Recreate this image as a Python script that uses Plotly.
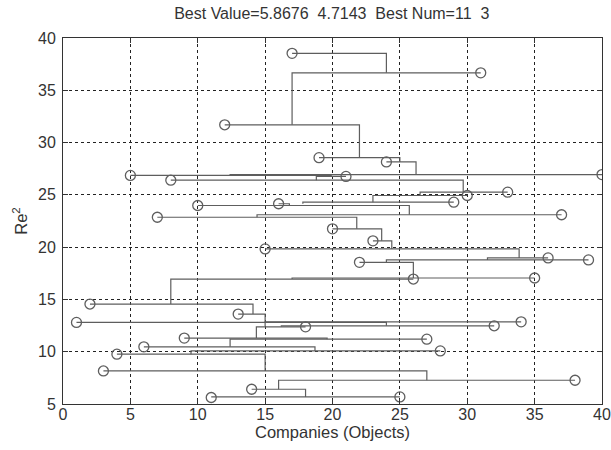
import plotly.graph_objects as go

# Objects (companies) ordered by Re^2, descending
obj_x = [17, 31, 12, 19, 24, 40, 5, 21, 8, 33, 30, 29, 16, 10, 37, 7, 20, 23, 15, 36,
         39, 22, 35, 26, 2, 13, 34, 1, 32, 18, 9, 27, 6, 28, 4, 3, 38, 14, 25, 11]
obj_y = [38.53, 36.67, 31.70, 28.56, 28.15, 26.94, 26.86, 26.76, 26.40, 25.26,
         24.94, 24.30, 24.15, 23.98, 23.10, 22.86, 21.75, 20.60, 19.83, 18.97,
         18.78, 18.55, 17.05, 16.95, 14.56, 13.60, 12.86, 12.80, 12.48, 12.38,
         11.30, 11.20, 10.47, 10.08, 9.76, 8.16, 7.27, 6.41, 5.68, 5.62]
# each object's link: horizontal run to link_x, then vertical to link_y
link_x = [24, 17, 22, 25, 26.2, 12.4, 19.9, 18.8, 29.7, 26.5,
          23, 17.8, 16.8, 25.7, 14.4, 21.8, 23.65, 24.4, 33.85, 31.5,
          24, 26, 17, 8, 14.1, 15, 15, 24, 16.2, 14.35,
          19.6, 12.4, 18.7, 9.5, 15, 27, 16, 18, 11, 11]
link_y = [36.67, 31.70, 28.56, 28.15, 26.94, 26.86, 26.76, 26.40, 25.26, 24.94,
          24.30, 24.15, 23.98, 23.10, 22.86, 21.75, 20.60, 19.83, 18.97, 18.78,
          18.55, 17.05, 16.95, 14.56, 13.60, 12.40, 12.80, 12.48, 12.38, 11.30,
          11.20, 10.47, 10.08, 9.76, 8.16, 7.27, 6.41, 5.68, 5.68, 5.62]

title_text = "Best Value=5.8676\u00a0\u00a04.7143\u00a0\u00a0Best Num=11\u00a0\u00a03"
x_label = "Companies (Objects)"
y_label = "Re<sup>2</sup>"
x_ticks = [0, 5, 10, 15, 20, 25, 30, 35, 40]
y_ticks = [5, 10, 15, 20, 25, 30, 35, 40]

lx, ly = [], []
for x0, y0, x1, y1 in zip(obj_x, obj_y, link_x, link_y):
    lx += [x0, x1, x1, None]
    ly += [y0, y0, y1, None]

line_col = "#5e5e5e"
fig = go.Figure()
fig.add_trace(go.Scatter(x=lx, y=ly, mode="lines",
                         line=dict(color=line_col, width=1.2),
                         hoverinfo="skip", showlegend=False))
fig.add_trace(go.Scatter(x=obj_x, y=obj_y, mode="markers",
                         marker=dict(symbol="circle-open", size=10,
                                     color=line_col, line=dict(width=1.3, color=line_col)),
                         showlegend=False))

font = "Liberation Sans, Arial, sans-serif"
axis_common = dict(showline=True, linecolor="#333", linewidth=1, mirror="ticks",
                   ticks="inside", ticklen=5, tickcolor="#333", automargin=False,
                   showgrid=True, gridcolor="#222", gridwidth=1, griddash="3px,3px",
                   zeroline=False, tickfont=dict(family=font, size=16, color="#333"))
fig.update_xaxes(range=[0, 40], tickvals=x_ticks, ticklabelstandoff=-4,
                 title=dict(text=x_label, font=dict(family=font, size=16.5, color="#333"), standoff=4),
                 **axis_common)
fig.update_yaxes(range=[5, 40], tickvals=y_ticks, ticklabelstandoff=3,
                 title=dict(text=y_label, font=dict(family=font, size=16.5, color="#333"), standoff=6),
                 **axis_common)
fig.update_layout(width=611, height=450,
                  margin=dict(l=63, r=9, t=38, b=46),
                  paper_bgcolor="white", plot_bgcolor="white",
                  title=dict(text=title_text, x=0.543, xanchor="center", y=0.971, yanchor="middle",
                             font=dict(family=font, size=16, color="#333")))
fig.write_html("out.html",
               config={"displayModeBar": False},
               post_script="document.body.style.margin='0';document.body.style.overflow='hidden';")
